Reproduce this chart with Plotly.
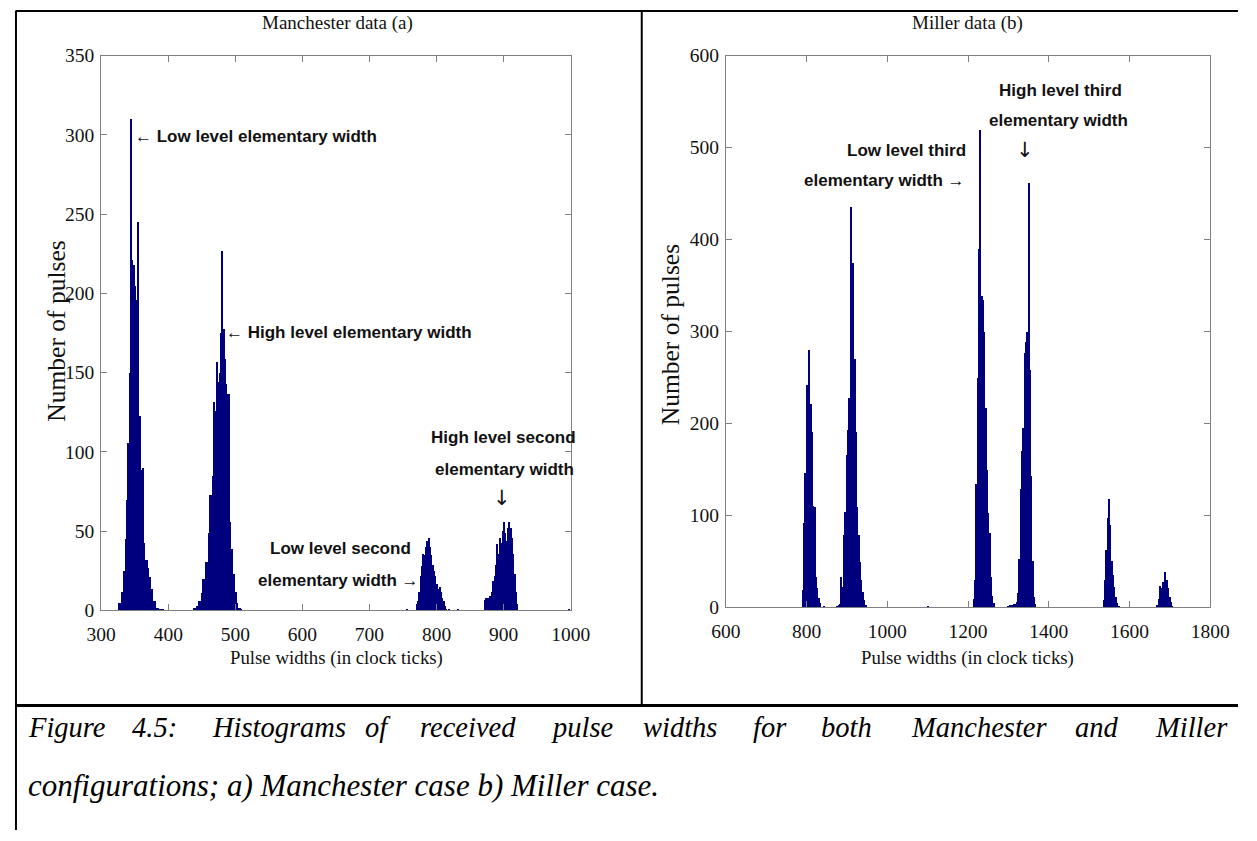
import plotly.graph_objects as go

# ---------------- DATA ----------------
# Manchester (a): histogram clusters, bin width 2 clock ticks
man_bin_width = 2
man_low_start = 326
man_low_counts = [5, 5, 12, 12, 25, 45, 70, 106, 150, 310, 221, 218, 205, 196, 245, 123, 123,
                  89, 90, 43, 32, 32, 27, 21, 14, 14, 6, 6, 2, 2, 1, 1, 0, 1]
man_high_start = 438
man_high_counts = [2, 2, 3, 3, 6, 6, 11, 20, 20, 31, 31, 49, 73, 73, 85, 132, 126, 157, 144,
                   150, 175, 227, 178, 159, 143, 137, 137, 56, 39, 23, 23, 12, 5, 2, 2, 1]
man_sec_low_start = 770
man_sec_low_counts = [4, 6, 12, 22, 28, 36, 35, 40, 44, 46, 40, 35, 29, 25, 22, 17, 14, 15,
                      12, 8, 6, 3, 1]
man_sec_high_start = 872
man_sec_high_counts = [7, 8, 8, 6, 9, 12, 19, 22, 29, 42, 36, 46, 43, 50, 56, 49, 44, 52, 56,
                       52, 46, 36, 23, 12, 4]
man_isolated_x = [757, 819, 833, 998]
man_isolated_counts = [1, 1, 1, 1]

# Miller (b): histogram clusters, bin width 10/3 clock ticks
mil_bin_width = 10 / 3
mil_a_start = 788.7
mil_a_counts = [19, 92, 146, 242, 202, 280, 222, 191, 111, 110, 33, 21, 11, 5]
mil_b_start = 874.3
mil_b_counts = [2, 3, 4, 33, 22, 79, 104, 166, 193, 228, 436, 311, 375, 270, 191, 110, 79,
                50, 30, 17, 8, 3]
mil_c_start = 1211.8
mil_c_counts = [10, 30, 135, 250, 390, 520, 339, 335, 300, 217, 150, 103, 81, 33, 13, 5]
mil_d_start = 1298.3
mil_d_counts = [2, 3, 2, 3, 4, 4, 6, 16, 53, 129, 170, 195, 277, 289, 300, 462, 259, 143,
                51, 12, 4]
mil_e_start = 1534.3
mil_e_counts = [8, 30, 63, 98, 118, 90, 51, 36, 22, 12, 5, 2]
mil_f_start = 1667.3
mil_f_counts = [3, 10, 24, 21, 28, 24, 39, 30, 21, 12, 6, 2]
mil_isolated_x = [843, 1101]
mil_isolated_counts = [2, 2]

man_xticks = [300, 400, 500, 600, 700, 800, 900, 1000]
man_yticks = [0, 50, 100, 150, 200, 250, 300, 350]
mil_xticks = [600, 800, 1000, 1200, 1400, 1600, 1800]
mil_yticks = [0, 100, 200, 300, 400, 500, 600]

title_a = "Manchester data (a)"
title_b = "Miller data (b)"
xlabel = "Pulse widths (in clock ticks)"
ylabel = "Number of pulses"
caption_line1 = ["Figure", "4.5:", "Histograms", "of", "received", "pulse", "widths", "for",
                 "both", "Manchester", "and", "Miller"]
caption_line2 = "configurations; a) Manchester case b) Miller case."

# ---------------- FIGURE ----------------
W, H = 1257, 841
BAR = "#00007F"
SERIF = "Liberation Serif, Times New Roman, serif"
SANS = "Liberation Sans, Arial, sans-serif"

# the photographed page appears slightly scaled and offset; map target pixels to layout pixels
S, OX, OY = 0.972, 14.85, 11.55


def px(t):
    return max(0.0, (t - OX) / S) / W


def py(t):
    return 1 - max(0.0, (t - OY) / S) / H


fig = go.Figure()


def add_cluster(start, counts, width, xa, ya):
    centers = [start + (i + 0.5) * width for i in range(len(counts))]
    fig.add_trace(go.Bar(x=centers, y=counts, width=width, marker=dict(color=BAR, line=dict(width=0)),
                         xaxis=xa, yaxis=ya, hoverinfo="x+y"))


for s, c in [(man_low_start, man_low_counts), (man_high_start, man_high_counts),
             (man_sec_low_start, man_sec_low_counts), (man_sec_high_start, man_sec_high_counts)]:
    add_cluster(s, c, man_bin_width, "x", "y")
fig.add_trace(go.Bar(x=man_isolated_x, y=man_isolated_counts, width=man_bin_width,
                     marker=dict(color=BAR, line=dict(width=0)), xaxis="x", yaxis="y"))

for s, c in [(mil_a_start, mil_a_counts), (mil_b_start, mil_b_counts), (mil_c_start, mil_c_counts),
             (mil_d_start, mil_d_counts), (mil_e_start, mil_e_counts), (mil_f_start, mil_f_counts)]:
    add_cluster(s, c, mil_bin_width, "x2", "y2")
fig.add_trace(go.Bar(x=mil_isolated_x, y=mil_isolated_counts, width=mil_bin_width,
                     marker=dict(color=BAR, line=dict(width=0)), xaxis="x2", yaxis="y2"))

axis_common = dict(showline=True, linecolor="#808080", linewidth=1, mirror="ticks",
                   ticks="inside", ticklen=6, tickcolor="#808080", showgrid=False,
                   zeroline=False, tickfont=dict(family=SERIF, size=19.5, color="#111"))

fig.update_layout(
    width=W, height=H, margin=dict(l=0, r=0, t=0, b=0), autosize=False,
    paper_bgcolor="white", plot_bgcolor="white",
    showlegend=False, barmode="overlay", bargap=0,
    xaxis=dict(domain=[px(101), px(570)], range=[300, 1000], tickvals=man_xticks, anchor="y",
               ticklabelstandoff=6, **axis_common),
    yaxis=dict(domain=[py(610), py(57)], range=[0, 350], tickvals=man_yticks, anchor="x",
               ticklabelstandoff=2, **axis_common),
    xaxis2=dict(domain=[px(725), px(1209)], range=[600, 1800], tickvals=mil_xticks, anchor="y2",
                ticklabelstandoff=6, **axis_common),
    yaxis2=dict(domain=[py(607), py(57)], range=[0, 600], tickvals=mil_yticks, anchor="x2",
                ticklabelstandoff=2, **axis_common),
)

ann = []


def paper_text(text, x, y, font, xanchor="center", angle=0):
    ann.append(dict(text=text, x=px(x), y=py(y), xref="paper", yref="paper", showarrow=False,
                    xanchor=xanchor, yanchor="middle", textangle=angle, font=font))


# titles and axis labels
paper_text(title_a, 337, 25, dict(family=SERIF, size=19, color="#111"))
paper_text(title_b, 966, 25, dict(family=SERIF, size=19, color="#111"))
for cx in (336, 966):
    paper_text(xlabel, cx, 658, dict(family=SERIF, size=18.8, color="#111"))
for cx, cy in ((56, 332), (670, 335)):
    paper_text(ylabel, cx, cy, dict(family=SERIF, size=25.5, color="#111"), angle=-90)

# bold labels on peaks
BF = dict(family=SANS, size=17, color="#111")
AF = dict(family="DejaVu Sans, sans-serif", size=21, color="#111")


def lab(text, x, y, xa="x", ya="y", xanchor="center", font=BF, bold=True):
    t = "<b>" + text + "</b>" if bold else text
    ann.append(dict(text=t, x=x, y=y, xref=xa, yref=ya, showarrow=False,
                    xanchor=xanchor, yanchor="middle", font=font))


lab("← Low level elementary width", 347.5, 299, xanchor="left")
lab("← High level elementary width", 483.5, 175, xanchor="left")
lab("High level second", 900, 109)
lab("elementary width", 901, 89)
lab("↓", 898, 71, font=AF, bold=False)
lab("Low level second", 657, 39)
lab("elementary width →", 654, 19)

lab("High level third", 1430, 562, "x2", "y2")
lab("elementary width", 1425, 529, "x2", "y2")
lab("↓", 1341, 497, "x2", "y2", font=AF, bold=False)
lab("Low level third", 1199, 497, "x2", "y2", xanchor="right")
lab("elementary width →", 1198, 464, "x2", "y2", xanchor="right")

# caption (justified first line)
cap_x = [26, 130, 210, 363, 417, 548, 640, 750, 818, 908, 1072, 1152]
CF = dict(family=SERIF, size=28.5, color="#000")
for word, x0 in zip(caption_line1, cap_x):
    paper_text("<i>" + word + "</i>", x0, 727, CF, xanchor="left")
paper_text("<i>" + caption_line2 + "</i>", 26, 785, dict(family=SERIF, size=31, color="#000"),
           xanchor="left")

fig.update_layout(annotations=ann)

# table borders
shapes = [
    dict(type="line", xref="paper", yref="paper", x0=px(3) + 0.5 / W, x1=1, y0=py(6) - 1 / H,
         y1=py(6) - 1 / H, line=dict(color="black", width=2)),
    dict(type="line", xref="paper", yref="paper", x0=px(3) + 1 / W, x1=px(3) + 1 / W, y0=0,
         y1=py(6) - 1 / H, line=dict(color="black", width=2)),
    dict(type="line", xref="paper", yref="paper", x0=px(641), x1=px(641), y0=py(705), y1=py(6) - 1 / H,
         line=dict(color="black", width=2)),
    dict(type="line", xref="paper", yref="paper", x0=px(3), x1=1, y0=py(705), y1=py(705),
         line=dict(color="black", width=3)),
]
fig.update_layout(shapes=shapes)

fig.write_html("out.html", config={"displayModeBar": False})
